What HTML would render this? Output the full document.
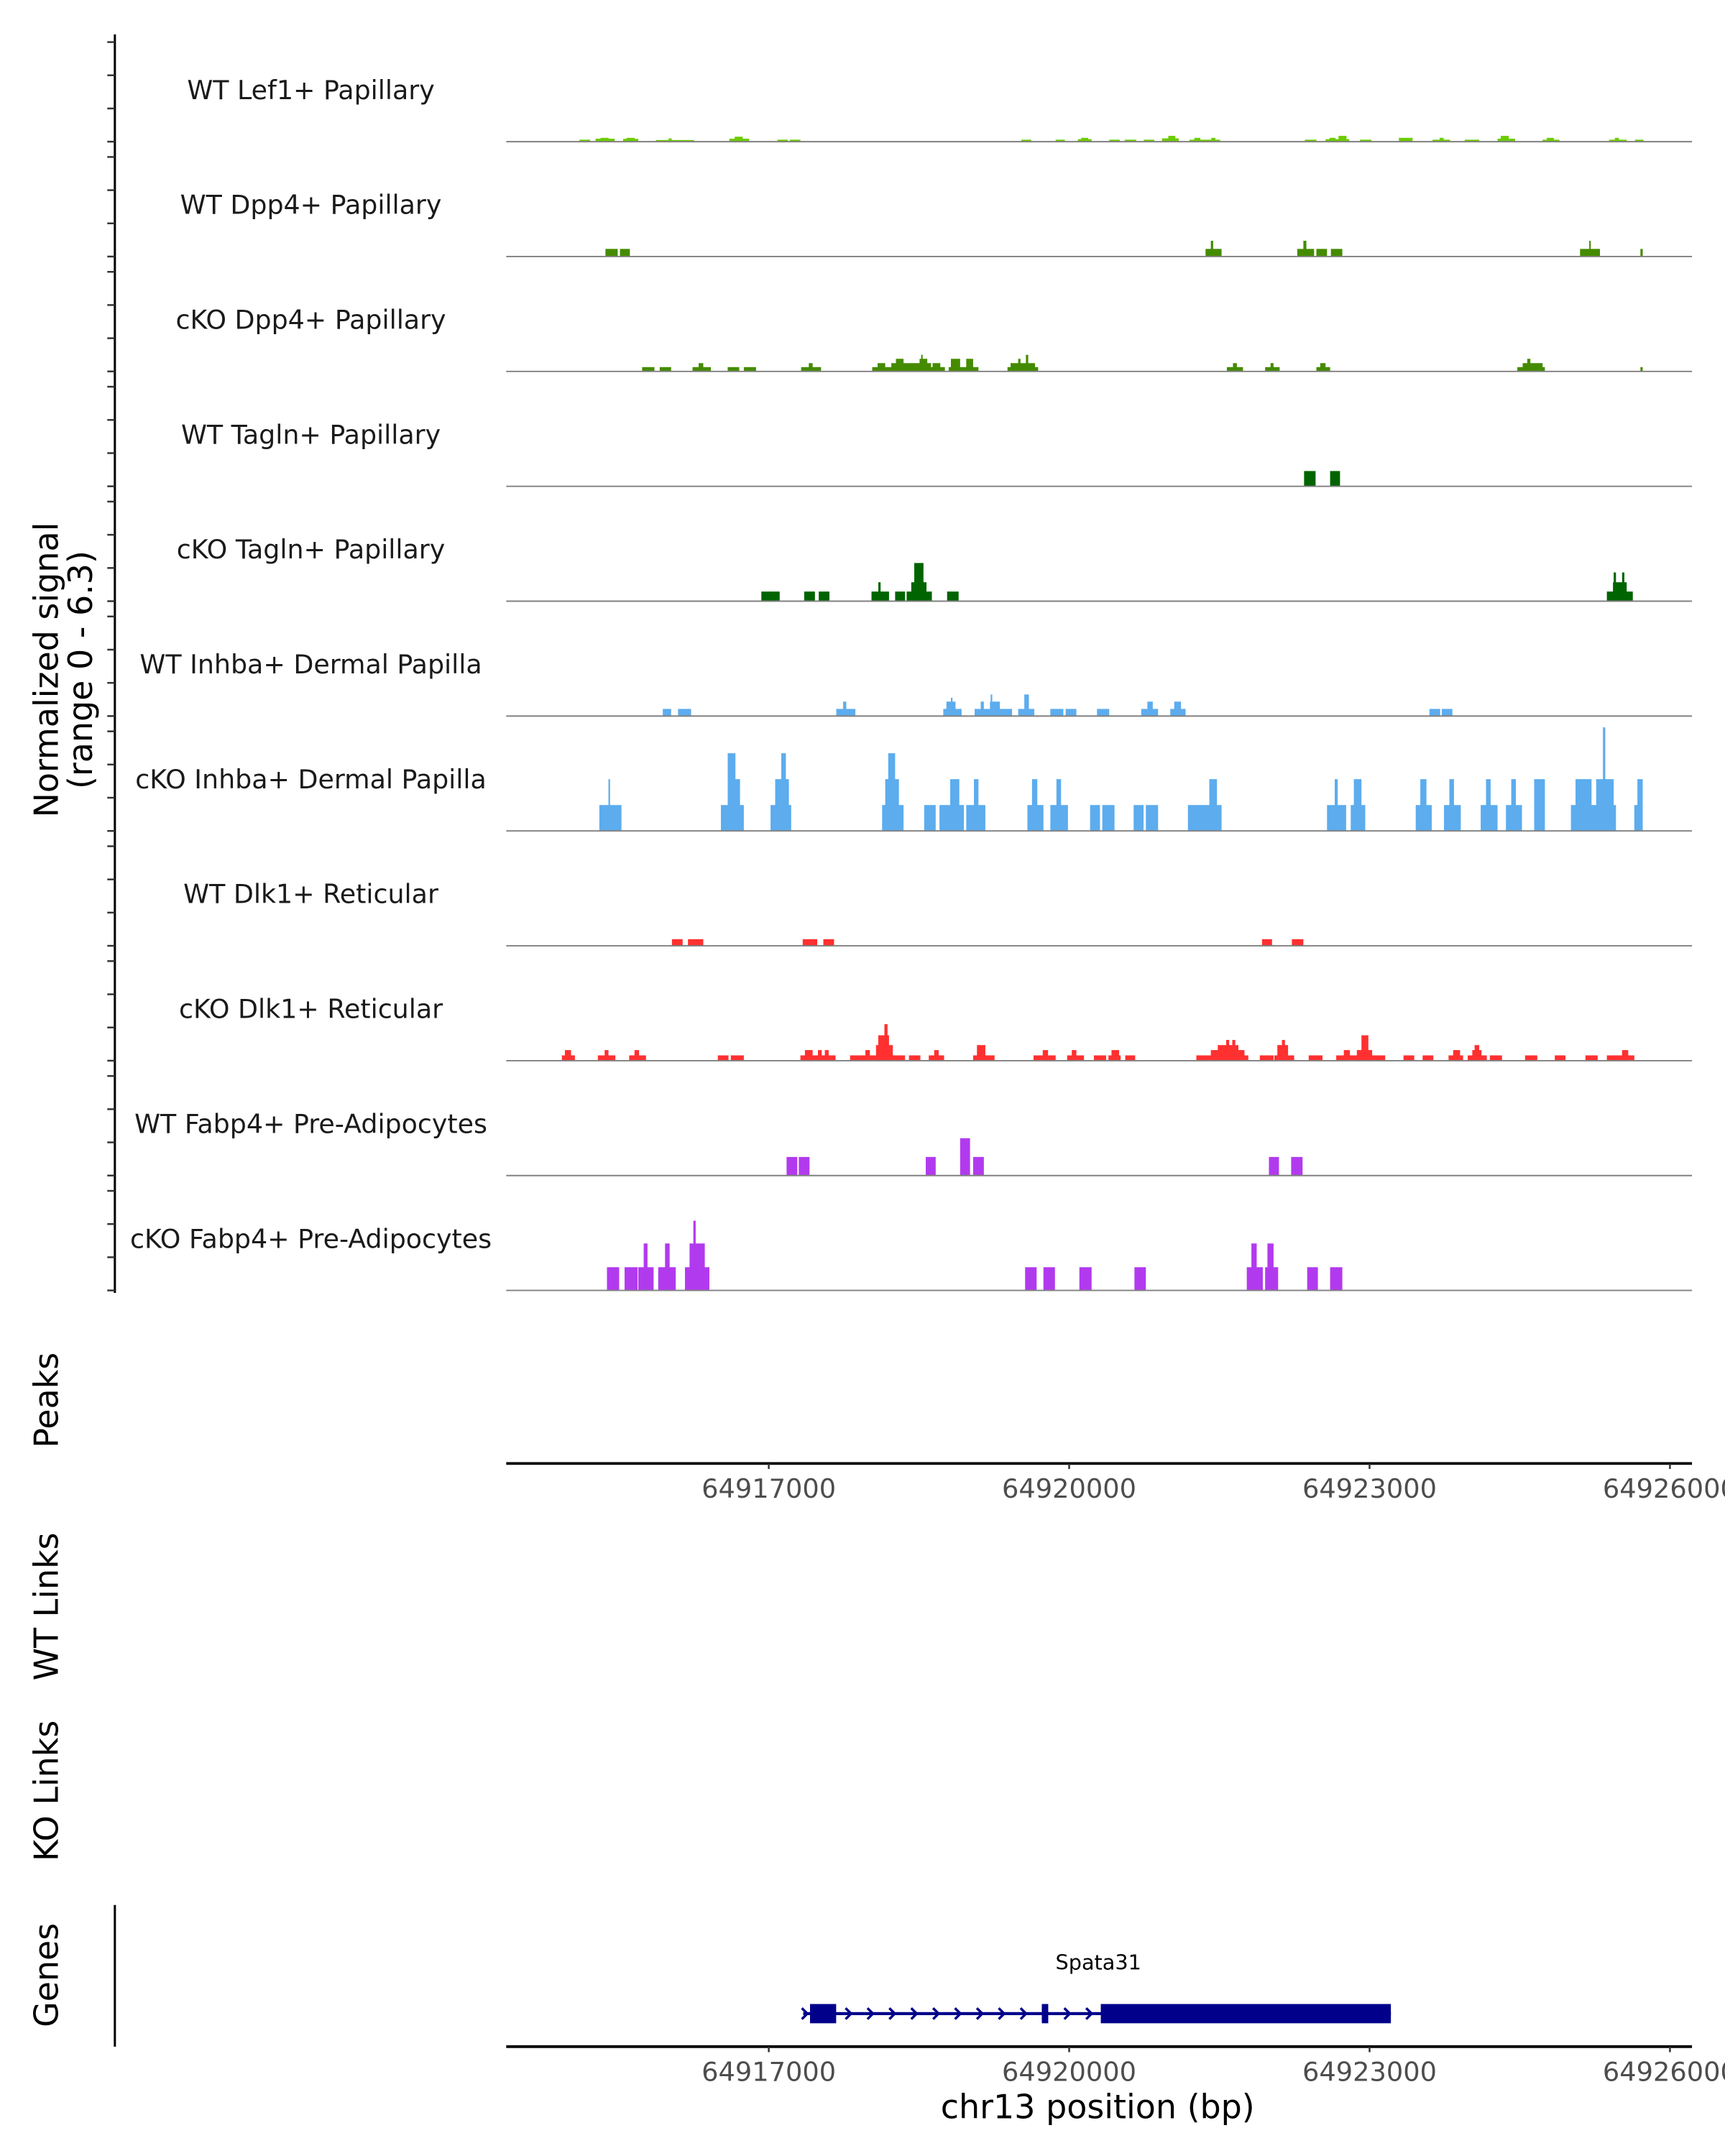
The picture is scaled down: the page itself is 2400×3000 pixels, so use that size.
<!DOCTYPE html>
<html><head><meta charset="utf-8"><style>
html,body{margin:0;padding:0;background:#fff;}
svg{display:block;}
text{font-family:"DejaVu Sans","Liberation Sans",sans-serif;}
</style></head>
<body>
<svg id="chart" xmlns="http://www.w3.org/2000/svg" width="2400" height="3000" viewBox="0 0 1254 1567.5" preserveAspectRatio="none">
<rect x="0" y="0" width="1254" height="1567.5" fill="#fff"/>
<g id="tracks"></g>
<line x1="83.5" y1="25" x2="83.5" y2="940" stroke="#000" stroke-width="1.6"/>
<g id="yticks"></g>
<text transform="translate(42,487) rotate(-90)" text-anchor="middle" font-size="24" fill="#000">Normalized signal</text>
<text transform="translate(67,487) rotate(-90)" text-anchor="middle" font-size="24" fill="#000">(range 0 - 6.3)</text>
<text transform="translate(42,1018) rotate(-90)" text-anchor="middle" font-size="24" fill="#000">Peaks</text>
<text transform="translate(42,1168) rotate(-90)" text-anchor="middle" font-size="24" fill="#000">WT Links</text>
<text transform="translate(42,1302) rotate(-90)" text-anchor="middle" font-size="24" fill="#000">KO Links</text>
<text transform="translate(42,1436) rotate(-90)" text-anchor="middle" font-size="24" fill="#000">Genes</text>
<line x1="83.5" y1="1385" x2="83.5" y2="1488" stroke="#000" stroke-width="1.6"/>
<g id="xaxes"></g>
<g id="gene"></g>
<text x="798" y="1540" text-anchor="middle" font-size="24" fill="#000">chr13 position (bp)</text>
</svg>
<script>
// ---- data ----
const trackNames = ["WT Lef1+ Papillary","WT Dpp4+ Papillary","cKO Dpp4+ Papillary","WT Tagln+ Papillary","cKO Tagln+ Papillary","WT Inhba+ Dermal Papilla","cKO Inhba+ Dermal Papilla","WT Dlk1+ Reticular","cKO Dlk1+ Reticular","WT Fabp4+ Pre-Adipocytes","cKO Fabp4+ Pre-Adipocytes"];
const trackColors = ["#6CCB00","#458B00","#458B00","#006400","#006400","#5CACEE","#5CACEE","#FF3030","#FF3030","#B23AEE","#B23AEE"];
const xTicks = [64917000,64920000,64923000,64926000];
const xTickLabels = ["64917000","64920000","64923000","64926000"];
const yTickValues = [0,2,4,6];
const xDomain = [64914378,64926220];
const signalMax = 6.3;

const wtLef1 = [[64915109,64915216,.12],[64915270,64915461,.18],[64915320,64915400,.23],[64915545,64915697,.17],[64915580,64915660,.23],[64915873,64916255,.1],[64916000,64916030,.2],[64916606,64916804,.18],[64916660,64916740,.3],[64917087,64917190,.12],[64917210,64917316,.12],[64919522,64919621,.12],[64919865,64919957,.12],[64920087,64920224,.15],[64920120,64920190,.23],[64920400,64920505,.12],[64920555,64920670,.12],[64920745,64920850,.12],[64920927,64921094,.2],[64920990,64921060,.35],[64921201,64921507,.12],[64921250,64921310,.23],[64921420,64921460,.23],[64922354,64922469,.12],[64922560,64922797,.15],[64922600,64922660,.23],[64922690,64922770,.35],[64922904,64923018,.12],[64923293,64923430,.23],[64923629,64923804,.12],[64923700,64923740,.23],[64923950,64924095,.12],[64924278,64924453,.18],[64924310,64924390,.35],[64924728,64924896,.12],[64924770,64924840,.23],[64925392,64925568,.12],[64925450,64925490,.23],[64925652,64925736,.12]];
const wtDpp4 = [[64915369,64915491,.46],[64915514,64915613,.46],[64921362,64921522,.46],[64921415,64921438,.95],[64922278,64922446,.46],[64922339,64922369,.95],[64922469,64922575,.46],[64922614,64922728,.46],[64925102,64925301,.46],[64925194,64925209,.95],[64925705,64925728,.46]];
const ckoDpp4 = [[64915735,64915858,.26],[64915911,64916025,.26],[64916239,64916422,.26],[64916300,64916346,.5],[64916590,64916705,.26],[64916751,64916873,.26],[64917323,64917522,.26],[64917400,64917438,.5],[64918033,64918759,.26],[64918087,64918163,.5],[64918224,64918621,.5],[64918270,64918346,.76],[64918506,64918583,.76],[64918522,64918537,1.0],[64918636,64918713,.5],[64918797,64919094,.26],[64918819,64918911,.76],[64918972,64919041,.76],[64919384,64919690,.26],[64919415,64919659,.5],[64919491,64919514,.76],[64919568,64919591,1.0],[64921575,64921736,.26],[64921636,64921675,.5],[64921957,64922102,.26],[64922011,64922041,.5],[64922469,64922606,.26],[64922507,64922560,.5],[64924476,64924751,.26],[64924529,64924728,.5],[64924575,64924606,.76],[64925705,64925728,.26]];
const wtTagln = [[64922346,64922461,.92],[64922606,64922705,.92]];
const ckoTagln = [[64916926,64917109,.58],[64917354,64917461,.58],[64917499,64917606,.58],[64918026,64918201,.58],[64918094,64918117,1.14],[64918262,64918361,.58],[64918377,64918629,.58],[64918423,64918575,1.14],[64918453,64918545,2.3],[64918781,64918896,.58],[64925370,64925629,.58],[64925431,64925568,1.14],[64925438,64925461,1.73],[64925522,64925545,1.73]];
const wtInhba = [[64915942,64916025,.43],[64916094,64916224,.43],[64917674,64917865,.43],[64917743,64917774,.87],[64918743,64918926,.43],[64918774,64918865,.87],[64918819,64918835,1.1],[64919056,64919430,.43],[64919117,64919148,.87],[64919209,64919308,.87],[64919216,64919232,1.3],[64919491,64919652,.43],[64919552,64919598,1.3],[64919812,64919942,.43],[64919965,64920072,.43],[64920278,64920400,.43],[64920720,64920888,.43],[64920781,64920835,.87],[64921010,64921163,.43],[64921049,64921117,.87],[64923598,64923705,.43],[64923721,64923827,.43]];
const ckoInhba = [[64915308,64915529,1.56],[64915399,64915415,3.12],[64916522,64916751,1.56],[64916590,64916667,4.68],[64916636,64916713,3.12],[64917018,64917224,1.56],[64917064,64917201,3.12],[64917125,64917171,4.68],[64918132,64918346,1.56],[64918163,64918300,3.12],[64918193,64918262,4.68],[64918552,64918667,1.56],[64918705,64918949,1.56],[64918812,64918903,3.12],[64918972,64919163,1.56],[64919049,64919094,3.12],[64919583,64919743,1.56],[64919629,64919682,3.12],[64919812,64919988,1.56],[64919873,64919919,3.12],[64920209,64920308,1.56],[64920331,64920453,1.56],[64920644,64920743,1.56],[64920766,64920888,1.56],[64921186,64921522,1.56],[64921400,64921476,3.12],[64922575,64922766,1.56],[64922652,64922682,3.12],[64922812,64922957,1.56],[64922843,64922919,3.12],[64923461,64923621,1.56],[64923507,64923568,3.12],[64923743,64923911,1.56],[64923797,64923843,3.12],[64924110,64924278,1.56],[64924163,64924209,3.12],[64924362,64924522,1.56],[64924415,64924461,3.12],[64924644,64924751,3.12],[64925011,64925461,1.56],[64925057,64925217,3.12],[64925263,64925438,3.12],[64925331,64925354,6.24],[64925644,64925728,1.56],[64925675,64925728,3.12]];
const wtDlk1 = [[64916033,64916140,.4],[64916193,64916346,.4],[64917339,64917484,.4],[64917545,64917652,.4],[64921926,64922026,.4],[64922224,64922339,.4]];
const ckoDlk1 = [[64914934,64915064,.32],[64914964,64915025,.64],[64915293,64915468,.32],[64915361,64915399,.64],[64915606,64915774,.32],[64915659,64915705,.64],[64916491,64916598,.32],[64916621,64916751,.32],[64917316,64917667,.32],[64917361,64917438,.64],[64917491,64917529,.64],[64917560,64917598,.64],[64917812,64918361,.32],[64917965,64918010,.64],[64918071,64918239,.94],[64918094,64918201,1.53],[64918155,64918186,2.2],[64918400,64918514,.32],[64918598,64918751,.32],[64918652,64918697,.64],[64919041,64919255,.32],[64919079,64919163,.94],[64919644,64919865,.32],[64919736,64919789,.64],[64919980,64920148,.32],[64920026,64920072,.64],[64920247,64920369,.32],[64920392,64920514,.32],[64920423,64920499,.64],[64920560,64920659,.32],[64921270,64921789,.32],[64921415,64921751,.64],[64921484,64921690,.94],[64921568,64921598,1.25],[64921629,64921659,1.25],[64921904,64922041,.32],[64922049,64922247,.32],[64922079,64922186,.94],[64922125,64922155,1.25],[64922392,64922530,.32],[64922667,64923156,.32],[64922743,64922804,.64],[64922873,64923026,.64],[64922919,64922988,1.53],[64923339,64923446,.32],[64923530,64923637,.32],[64923789,64923934,.32],[64923835,64923904,.64],[64923980,64924171,.32],[64924026,64924118,.64],[64924049,64924095,.94],[64924201,64924323,.32],[64924553,64924675,.32],[64924850,64924957,.32],[64925156,64925278,.32],[64925370,64925644,.32],[64925522,64925583,.64]];
const wtFabp4 = [[64917178,64917285,1.12],[64917300,64917407,1.12],[64918568,64918667,1.12],[64918911,64919010,2.25],[64919041,64919148,1.12],[64921995,64922095,1.12],[64922217,64922331,1.12]];
const ckoFabp4 = [[64915384,64915506,1.4],[64915560,64915690,1.4],[64915697,64915850,1.4],[64915751,64915789,2.83],[64915896,64916071,1.4],[64915964,64916010,2.83],[64916163,64916407,1.4],[64916209,64916361,2.83],[64916247,64916270,4.2],[64919560,64919675,1.4],[64919743,64919858,1.4],[64920102,64920224,1.4],[64920652,64920766,1.4],[64921774,64921934,1.4],[64921820,64921873,2.83],[64921957,64922087,1.4],[64921980,64922041,2.83],[64922377,64922484,1.4],[64922606,64922728,1.4]];
const trackData = [wtLef1,wtDpp4,ckoDpp4,wtTagln,ckoTagln,wtInhba,ckoInhba,wtDlk1,ckoDlk1,wtFabp4,ckoFabp4];

const geneName = "Spata31";
const geneSpan = [64917344,64923213];
const geneExons = [[64917412,64917673],[64919727,64919791],[64920316,64923213]];

// ---- layout / scales ----
const NS = "http://www.w3.org/2000/svg";
const plotL = 368, plotR = 1230;
const firstBase = 103, trackStep = 83.52, unitPx = 72.4/6;
function xScale(bp){ return plotL + (bp - xDomain[0]) * (plotR - plotL) / (xDomain[1] - xDomain[0]); }
function baseY(i){ return firstBase + i * trackStep; }
function yScale(i, v){ return baseY(i) - v * unitPx; }
function mk(tag, attrs){ const e = document.createElementNS(NS, tag); for (const k in attrs) e.setAttribute(k, attrs[k]); return e; }

const tracksG = document.getElementById('tracks');
const ticksG = document.getElementById('yticks');
trackData.forEach((segs, i) => {
  const g = mk('g', {});
  
  
  tracksG.appendChild(g);
  const lab = mk('text', {x: 226, y: baseY(i) - 31, 'text-anchor': 'middle', 'font-size': 19, fill: '#1a1a1a'});
  
  
  lab.textContent = trackNames[i];
  g.appendChild(lab);
  segs.forEach(s => {
    const x1 = xScale(s[0]), x2 = xScale(s[1]);
    const r = mk('rect', {x: x1, y: yScale(i, s[2]), width: Math.max(0.8, x2 - x1), height: baseY(i) - yScale(i, s[2]), fill: trackColors[i]});
    
    
    g.appendChild(r);
  });
  const bl = mk('line', {x1: plotL, y1: baseY(i), x2: plotR, y2: baseY(i), stroke: '#808080', 'stroke-width': 1});
  
  
  g.appendChild(bl);
  yTickValues.forEach(v => {
    const t = mk('line', {x1: 78, y1: yScale(i, v), x2: 83.5, y2: yScale(i, v), stroke: '#333', 'stroke-width': 1.3});
    
    
    ticksG.appendChild(t);
  });
});

// x axes
const axG = document.getElementById('xaxes');
[1064, 1488].forEach((ay, k) => {
  const l = mk('line', {x1: plotL, y1: ay, x2: plotR, y2: ay, stroke: '#000', 'stroke-width': 2});
  
  
  axG.appendChild(l);
  xTicks.forEach((bp, j) => {
    const x = xScale(bp);
    const t = mk('line', {x1: x, y1: ay, x2: x, y2: ay + 4, stroke: '#333', 'stroke-width': 1.3});
    
    
    axG.appendChild(t);
    const tl = mk('text', {x: x, y: ay + 25, 'text-anchor': 'middle', 'font-size': 19.2, fill: '#4d4d4d'});
    
    
    tl.textContent = xTickLabels[j];
    axG.appendChild(tl);
  });
});

// gene
const gG = document.getElementById('gene');
const gy = 1464;
const gl = mk('line', {x1: xScale(geneSpan[0]), y1: gy, x2: xScale(geneSpan[1]), y2: gy, stroke: '#00008B', 'stroke-width': 2.2});


gG.appendChild(gl);
for (let x = xScale(geneSpan[0]) + 1; x < xScale(geneExons[2][0]) - 4; x += 15.9) {
  const a = mk('polyline', {points: (x-2)+','+(gy-4)+' '+(x+2)+','+gy+' '+(x-2)+','+(gy+4), fill: 'none', stroke: '#00008B', 'stroke-width': 1.8});
  
  
  gG.appendChild(a);
}
geneExons.forEach(ex => {
  const x1 = xScale(ex[0]), x2 = xScale(ex[1]);
  const r = mk('rect', {x: x1, y: gy - 7, width: Math.max(2.5, x2 - x1), height: 14, fill: '#00008B'});
  
  
  gG.appendChild(r);
});
const gt = mk('text', {x: (xScale(geneSpan[0]) + xScale(geneSpan[1])) / 2 + 1, y: 1432, 'text-anchor': 'middle', 'font-size': 15, fill: '#000'});


gt.textContent = geneName;
gG.appendChild(gt);
</script>
</body></html>
